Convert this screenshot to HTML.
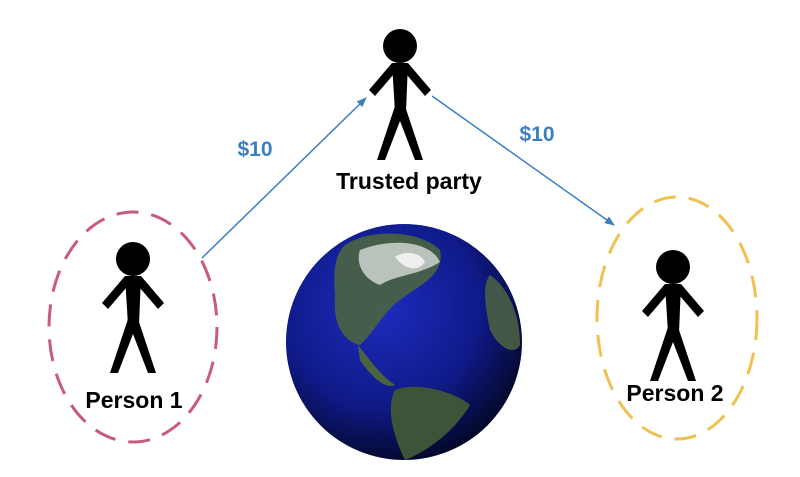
<!DOCTYPE html>
<html><head><meta charset="utf-8"><style>
html,body{margin:0;padding:0;background:#fff;}
svg{display:block}
text{font-family:"Liberation Sans",sans-serif;font-weight:bold}
</style></head><body>
<svg width="800" height="477" viewBox="0 0 800 477" xmlns="http://www.w3.org/2000/svg">
<defs>
<g id="fig">
  <circle cx="0" cy="0" r="17" fill="#000"/>
  <polygon points="-8,17 8,17 6,66 -5,66" fill="#000"/>
  <polygon points="-8,17 -1,22 -25,50 -31,44" fill="#000"/>
  <polygon points="8,17 1,22 25,50 31,44" fill="#000"/>
  <polygon points="-5,60 5,62 -15,114 -23,114" fill="#000"/>
  <polygon points="5,60 -5,62 15,114 23,114" fill="#000"/>
</g>
<radialGradient id="gl" cx="0.4" cy="0.35" r="0.7">
  <stop offset="0" stop-color="#1e2cbf"/>
  <stop offset="0.6" stop-color="#0f1a88"/>
  <stop offset="1" stop-color="#030620"/>
</radialGradient>
<marker id="ar" markerWidth="10" markerHeight="8" refX="9" refY="4" orient="auto" markerUnits="userSpaceOnUse">
  <path d="M0,0 L10,4 L0,8 Z" fill="#3a7fc0"/>
</marker>
</defs>

<ellipse cx="133" cy="327" rx="84" ry="115" fill="none" stroke="#c85a7c" stroke-width="3" stroke-dasharray="22 13"/>
<ellipse cx="677" cy="318" rx="80" ry="121" fill="none" stroke="#f0c050" stroke-width="3" stroke-dasharray="22 13"/>

<line x1="202" y1="258" x2="366" y2="98" stroke="#3a7fc0" stroke-width="1.5" marker-end="url(#ar)"/>
<line x1="432" y1="96" x2="614" y2="225" stroke="#3a7fc0" stroke-width="1.5" marker-end="url(#ar)"/>
<text x="255" y="156" fill="#3a7fc0" font-size="21" text-anchor="middle">$10</text>
<text x="537" y="141" fill="#3a7fc0" font-size="21" text-anchor="middle">$10</text>

<use href="#fig" x="400" y="46"/>
<use href="#fig" x="133" y="259"/>
<use href="#fig" x="673" y="267"/>

<text x="409" y="189" font-size="23" text-anchor="middle">Trusted party</text>
<text x="134" y="408" font-size="23" text-anchor="middle">Person 1</text>
<text x="675" y="401" font-size="23" text-anchor="middle">Person 2</text>

<circle cx="404" cy="342" r="118" fill="url(#gl)"/>
<path d="M345,245 C370,228 420,230 440,250 C445,275 420,285 400,300 C385,310 372,335 360,345 C340,340 333,320 335,295 C333,270 335,255 345,245 Z" fill="#4a6440" opacity="0.9"/>
<path d="M360,250 C390,238 430,240 440,262 C420,275 395,275 380,285 C365,280 355,265 360,250 Z" fill="#cfd4d0" opacity="0.85"/>
<path d="M395,257 C405,250 420,252 425,262 C418,272 405,270 395,257 Z" fill="#eef0f0"/>
<path d="M358,345 C370,360 380,375 395,385 C385,390 370,375 360,360 Z" fill="#4a6440"/>
<path d="M395,390 C420,380 460,395 470,405 C455,430 430,450 405,460 C395,440 385,410 395,390 Z" fill="#3c5438"/>
<path d="M490,275 C505,285 520,310 520,345 C515,355 500,350 490,330 C485,305 482,285 490,275 Z" fill="#4e6442" opacity="0.85"/>
</svg>
</body></html>
